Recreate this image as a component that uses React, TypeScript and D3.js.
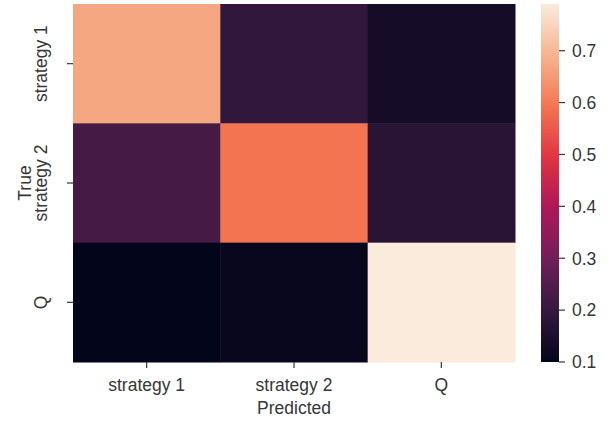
import React from "react";
import * as d3 from "d3";

const predictedLabels = ["strategy 1", "strategy 2", "Q"];
const trueLabels = ["strategy 1", "strategy 2", "Q"];
const row1 = [0.67, 0.19, 0.135];
const row2 = [0.225, 0.59, 0.175];
const row3 = [0.1, 0.11, 0.79];
const matrix = [row1, row2, row3];
const colorbarTicks = [0.1, 0.2, 0.3, 0.4, 0.5, 0.6, 0.7];
const rocketStops = ["#03051a", "#35193e", "#701f57", "#ad1759", "#e13342", "#f37651", "#f6b48f", "#faebdd"];
const rocketPos = [0, 1 / 7, 2 / 7, 3 / 7, 4 / 7, 5 / 7, 6 / 7, 1];

const W = 613, H = 421;
const left = 73, right = 515, top = 4, bottom = 362;
const cbLeft = 541, cbRight = 559;
const FONT = "'Liberation Sans', Arial, sans-serif";
const FS = 17.5;
const TXT = "#363636";

function rocket(t: number) {
  const s = d3.scaleLinear<string>().domain(rocketPos).range(rocketStops).interpolate(d3.interpolateRgb).clamp(true);
  return s(t);
}

export default function App() {
  const flat = matrix.flat();
  const vmin = d3.min(flat)!;
  const vmax = d3.max(flat)!;
  const x = d3.scaleBand().domain(predictedLabels).range([left, right]);
  const y = d3.scaleBand().domain(trueLabels).range([top, bottom]);
  const norm = d3.scaleLinear().domain([vmin, vmax]).range([0, 1]);
  const color = (v: number) => rocket(norm(v));
  const cbY = d3.scaleLinear().domain([vmin, vmax]).range([bottom, top]);
  const gradStops = d3.range(0, 1.0001, 0.02);

  return (
    <svg width={W} height={H} style={{ position: "absolute", left: 0, top: 0, background: "#fff" }}>
      <defs>
        <linearGradient id="cb" x1="0" y1="1" x2="0" y2="0">
          {gradStops.map((t, i) => (
            <stop key={i} offset={t} stopColor={rocket(t)} />
          ))}
        </linearGradient>
      </defs>
      {matrix.map((row, i) =>
        row.map((v, j) => (
          <rect
            key={`${i}-${j}`}
            x={x(predictedLabels[j])!}
            y={y(trueLabels[i])!}
            width={x.bandwidth() + 0.5}
            height={y.bandwidth() + 0.5}
            fill={color(v)}
          />
        ))
      )}
      {predictedLabels.map((l) => {
        const cx = x(l)! + x.bandwidth() / 2;
        return (
          <g key={l}>
            <line x1={cx} x2={cx} y1={bottom} y2={bottom + 6} stroke={TXT} strokeWidth={1.2} />
            <text x={cx} y={391} textAnchor="middle" fontFamily={FONT} fontSize={FS} fill={TXT}>{l}</text>
          </g>
        );
      })}
      <text x={(left + right) / 2} y={414} textAnchor="middle" fontFamily={FONT} fontSize={FS} fill={TXT}>Predicted</text>
      {trueLabels.map((l) => {
        const cy = y(l)! + y.bandwidth() / 2;
        return (
          <g key={l}>
            <line x1={left - 6} x2={left} y1={cy} y2={cy} stroke={TXT} strokeWidth={1.2} />
            <text transform={`translate(47,${cy}) rotate(-90)`} textAnchor="middle" fontFamily={FONT} fontSize={FS} fill={TXT}>{l}</text>
          </g>
        );
      })}
      <text transform={`translate(31,${(top + bottom) / 2}) rotate(-90)`} textAnchor="middle" fontFamily={FONT} fontSize={FS} fill={TXT}>True</text>
      <rect x={cbLeft} y={top} width={cbRight - cbLeft} height={bottom - top} fill="url(#cb)" />
      {colorbarTicks.map((t) => (
        <g key={t}>
          <line x1={cbRight} x2={cbRight + 6} y1={cbY(t)} y2={cbY(t)} stroke={TXT} strokeWidth={1.2} />
          <text x={cbRight + 13} y={cbY(t)} dy="0.36em" fontFamily={FONT} fontSize={FS} fill={TXT}>{d3.format(".1f")(t)}</text>
        </g>
      ))}
    </svg>
  );
}
